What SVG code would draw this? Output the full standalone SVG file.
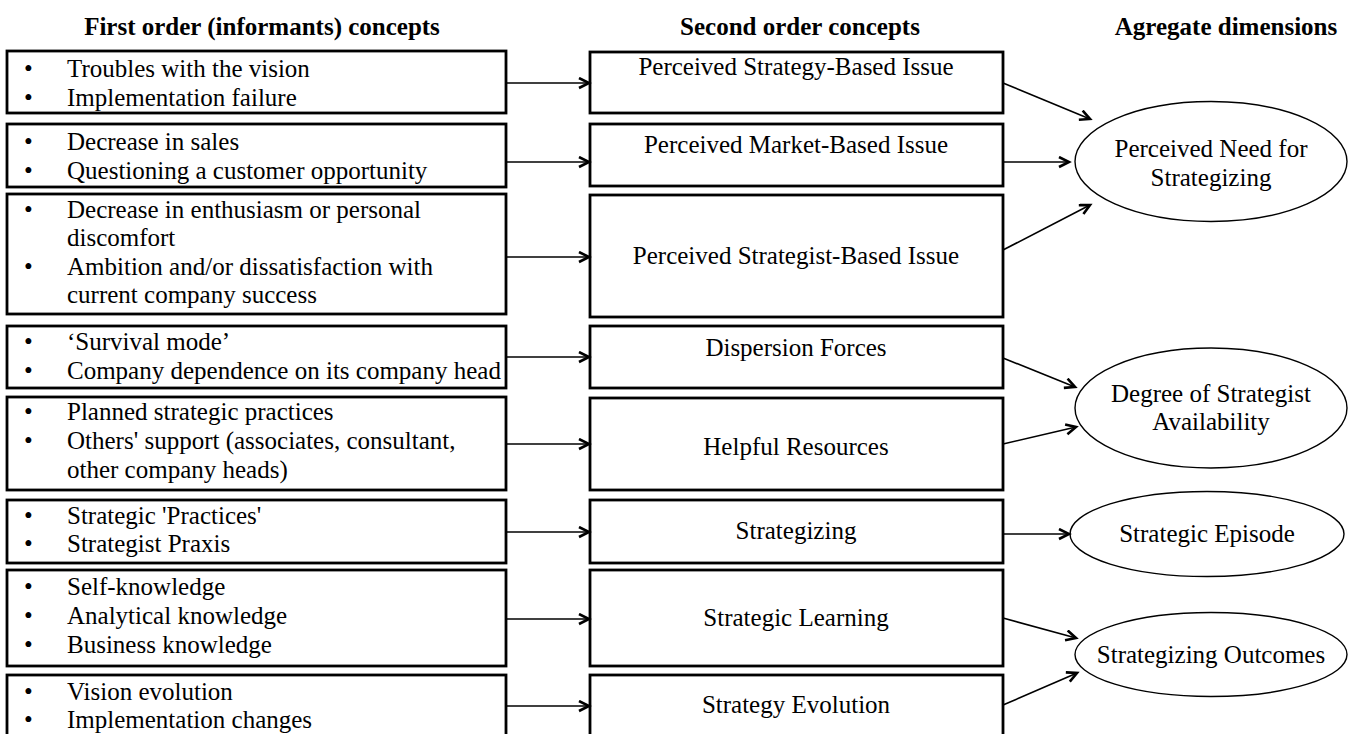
<svg xmlns="http://www.w3.org/2000/svg" width="1350" height="734" viewBox="0 0 1350 734">
<defs>
<marker id="ah" markerUnits="userSpaceOnUse" markerWidth="14" markerHeight="14" refX="11" refY="6" orient="auto">
<path d="M1,1 L11,6 L1,11" fill="none" stroke="#000" stroke-width="2.6" stroke-linejoin="miter"/>
</marker>
<style>
text{font-family:"Liberation Serif","Times New Roman",serif;font-size:25px;fill:#000}
.h{font-weight:bold}
.c{text-anchor:middle}
.box{fill:#fff;stroke:#000;stroke-width:2.8}
.ell{fill:#fff;stroke:#000;stroke-width:1.4}
.arr{fill:none;stroke:#000;stroke-width:1.6;marker-end:url(#ah)}
</style>
</defs>
<rect width="1350" height="734" fill="#fff"/>
<g id="headers">
<text class="h c" x="262" y="35">First order (informants) concepts</text>
<text class="h c" x="800" y="35">Second order concepts</text>
<text class="h c" x="1226" y="35">Agregate dimensions</text>
</g>
<g id="f1"><rect class="box" x="7" y="51" width="499" height="62"/>
<text x="24" y="77">•</text><text x="67" y="77">Troubles with the vision</text>
<text x="24" y="106">•</text><text x="67" y="106">Implementation failure</text></g>
<g id="f2"><rect class="box" x="7" y="124" width="499" height="63"/>
<text x="24" y="150">•</text><text x="67" y="150">Decrease in sales</text>
<text x="24" y="179">•</text><text x="67" y="179">Questioning a customer opportunity</text></g>
<g id="f3"><rect class="box" x="7" y="194" width="499" height="120"/>
<text x="24" y="218">•</text><text x="67" y="218">Decrease in enthusiasm or personal</text>
<text x="67" y="246">discomfort</text>
<text x="24" y="275">•</text><text x="67" y="275">Ambition and/or dissatisfaction with</text>
<text x="67" y="303">current company success</text></g>
<g id="f4"><rect class="box" x="7" y="326" width="499" height="62"/>
<text x="24" y="350">•</text><text x="67" y="350">‘Survival mode’</text>
<text x="24" y="379">•</text><text x="67" y="379">Company dependence on its company head</text></g>
<g id="f5"><rect class="box" x="7" y="397" width="499" height="93"/>
<text x="24" y="420">•</text><text x="67" y="420">Planned strategic practices</text>
<text x="24" y="449">•</text><text x="67" y="449">Others' support (associates, consultant,</text>
<text x="67" y="478">other company heads)</text></g>
<g id="f6"><rect class="box" x="7" y="500" width="499" height="63"/>
<text x="24" y="524">•</text><text x="67" y="524">Strategic 'Practices'</text>
<text x="24" y="552">•</text><text x="67" y="552">Strategist Praxis</text></g>
<g id="f7"><rect class="box" x="7" y="570" width="499" height="96"/>
<text x="24" y="595">•</text><text x="67" y="595">Self-knowledge</text>
<text x="24" y="624">•</text><text x="67" y="624">Analytical knowledge</text>
<text x="24" y="653">•</text><text x="67" y="653">Business knowledge</text></g>
<g id="f8"><rect class="box" x="7" y="675" width="499" height="70"/>
<text x="24" y="700">•</text><text x="67" y="700">Vision evolution</text>
<text x="24" y="728">•</text><text x="67" y="728">Implementation changes</text></g>
<g id="s1"><rect class="box" x="590" y="52" width="413" height="61"/><text class="c" x="796" y="75">Perceived Strategy-Based Issue</text></g>
<g id="s2"><rect class="box" x="590" y="124" width="413" height="62"/><text class="c" x="796" y="153">Perceived Market-Based Issue</text></g>
<g id="s3"><rect class="box" x="590" y="195" width="413" height="122"/><text class="c" x="796" y="264">Perceived Strategist-Based Issue</text></g>
<g id="s4"><rect class="box" x="590" y="326" width="413" height="62"/><text class="c" x="796" y="356">Dispersion Forces</text></g>
<g id="s5"><rect class="box" x="590" y="398" width="413" height="92"/><text class="c" x="796" y="455">Helpful Resources</text></g>
<g id="s6"><rect class="box" x="590" y="500" width="413" height="63"/><text class="c" x="796" y="539">Strategizing</text></g>
<g id="s7"><rect class="box" x="590" y="570" width="413" height="96"/><text class="c" x="796" y="626">Strategic Learning</text></g>
<g id="s8"><rect class="box" x="590" y="675" width="413" height="70"/><text class="c" x="796" y="713">Strategy Evolution</text></g>
<g id="a1"><ellipse class="ell" cx="1211" cy="161.5" rx="136" ry="60"/>
<text class="c" x="1211" y="157">Perceived Need for</text><text class="c" x="1211" y="186">Strategizing</text></g>
<g id="a2"><ellipse class="ell" cx="1211" cy="408" rx="136" ry="60"/>
<text class="c" x="1211" y="402">Degree of Strategist</text><text class="c" x="1211" y="430">Availability</text></g>
<g id="a3"><ellipse class="ell" cx="1207" cy="534" rx="137" ry="42.5"/>
<text class="c" x="1207" y="542">Strategic Episode</text></g>
<g id="a4"><ellipse class="ell" cx="1211" cy="654.5" rx="136" ry="42"/>
<text class="c" x="1211" y="663">Strategizing Outcomes</text></g>
<g id="connectors">
<line class="arr" x1="506" y1="83" x2="589" y2="83"/>
<line class="arr" x1="506" y1="162" x2="589" y2="162"/>
<line class="arr" x1="506" y1="257" x2="589" y2="257"/>
<line class="arr" x1="506" y1="357" x2="589" y2="357"/>
<line class="arr" x1="506" y1="444" x2="589" y2="444"/>
<line class="arr" x1="506" y1="532" x2="589" y2="532"/>
<line class="arr" x1="506" y1="619" x2="589" y2="619"/>
<line class="arr" x1="506" y1="706" x2="589" y2="706"/>
<line class="arr" x1="1003" y1="83" x2="1090" y2="119"/>
<line class="arr" x1="1003" y1="162" x2="1069" y2="162"/>
<line class="arr" x1="1003" y1="250" x2="1090" y2="205"/>
<line class="arr" x1="1003" y1="358" x2="1075" y2="387"/>
<line class="arr" x1="1003" y1="444" x2="1076" y2="427"/>
<line class="arr" x1="1003" y1="534" x2="1069" y2="534"/>
<line class="arr" x1="1003" y1="618" x2="1076" y2="638"/>
<line class="arr" x1="1003" y1="705" x2="1077" y2="673"/>
</g>
</svg>
